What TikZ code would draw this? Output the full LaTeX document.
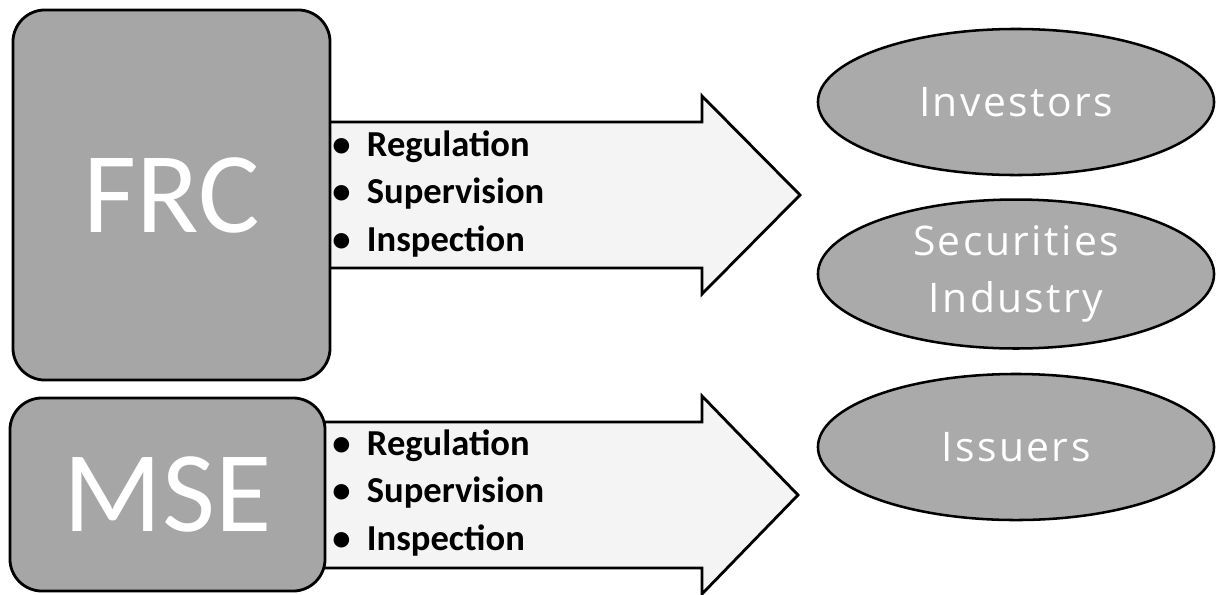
\documentclass[tikz,border=0pt]{standalone}
\usepackage{fontspec}
\setmainfont{Carlito}
\newfontfamily\ovalfont[LetterSpace=6]{Open Sans}
\usetikzlibrary{shapes.geometric}
\definecolor{boxgray}{RGB}{166,166,166}
\definecolor{ovalgray}{RGB}{170,170,170}
\definecolor{arrowfill}{RGB}{244,244,244}
\newcommand{\duties}{\textbullet\hspace{0.45em}Regulation\\\textbullet\hspace{0.45em}Supervision\\\textbullet\hspace{0.45em}Inspection}
\begin{document}
\begin{tikzpicture}[
        x=0.025cm, y=-0.025cm,
        agency/.style={draw, line width=2pt, rounded corners=0.8cm, fill=boxgray, text=white, font=\fontsize{82}{90}\selectfont},
        party/.style={draw, ellipse, line width=1.8pt, fill=ovalgray, text=white, minimum width=9.9cm, minimum height=3.65cm, align=center, font=\ovalfont\fontsize{29}{40}\selectfont},
        flow/.style={draw, line width=2pt, fill=arrowfill, line join=miter},
        tasks/.style={anchor=west, align=left, inner sep=0pt, font=\bfseries\fontsize{26}{34}\selectfont}
    ]
        \useasboundingbox (0,0) rectangle (1216,594);
        % block arrows, drawn before the boxes that cover their tails
        \foreach \cy/\tip in {195/800, 495/798} {
            \draw[flow] (300,\cy-73) -- (702,\cy-73) -- (702,\cy-99) -- (\tip,\cy)
                -- (702,\cy+99) -- (702,\cy+73) -- (300,\cy+73) -- cycle;
        }
        % agencies
        \node[agency, minimum width=7.925cm, minimum height=9.25cm] (frc) at (171.5,195) {FRC};
        \node[agency, minimum width=7.875cm, minimum height=4.825cm] (mse) at (167.5,494.5) {MSE};
        % what they do
        \node[tasks] (frctasks) at (332,194) {\duties};
        \node[tasks] (msetasks) at (332,493) {\duties};
        % market participants
        \node[party] (investors) at (1016,102) {Investors};
        \node[party] (industry) at (1016,274) {Securities\\Industry};
        \node[party] (issuers) at (1016,447) {Issuers};
    \end{tikzpicture}
\end{document}
